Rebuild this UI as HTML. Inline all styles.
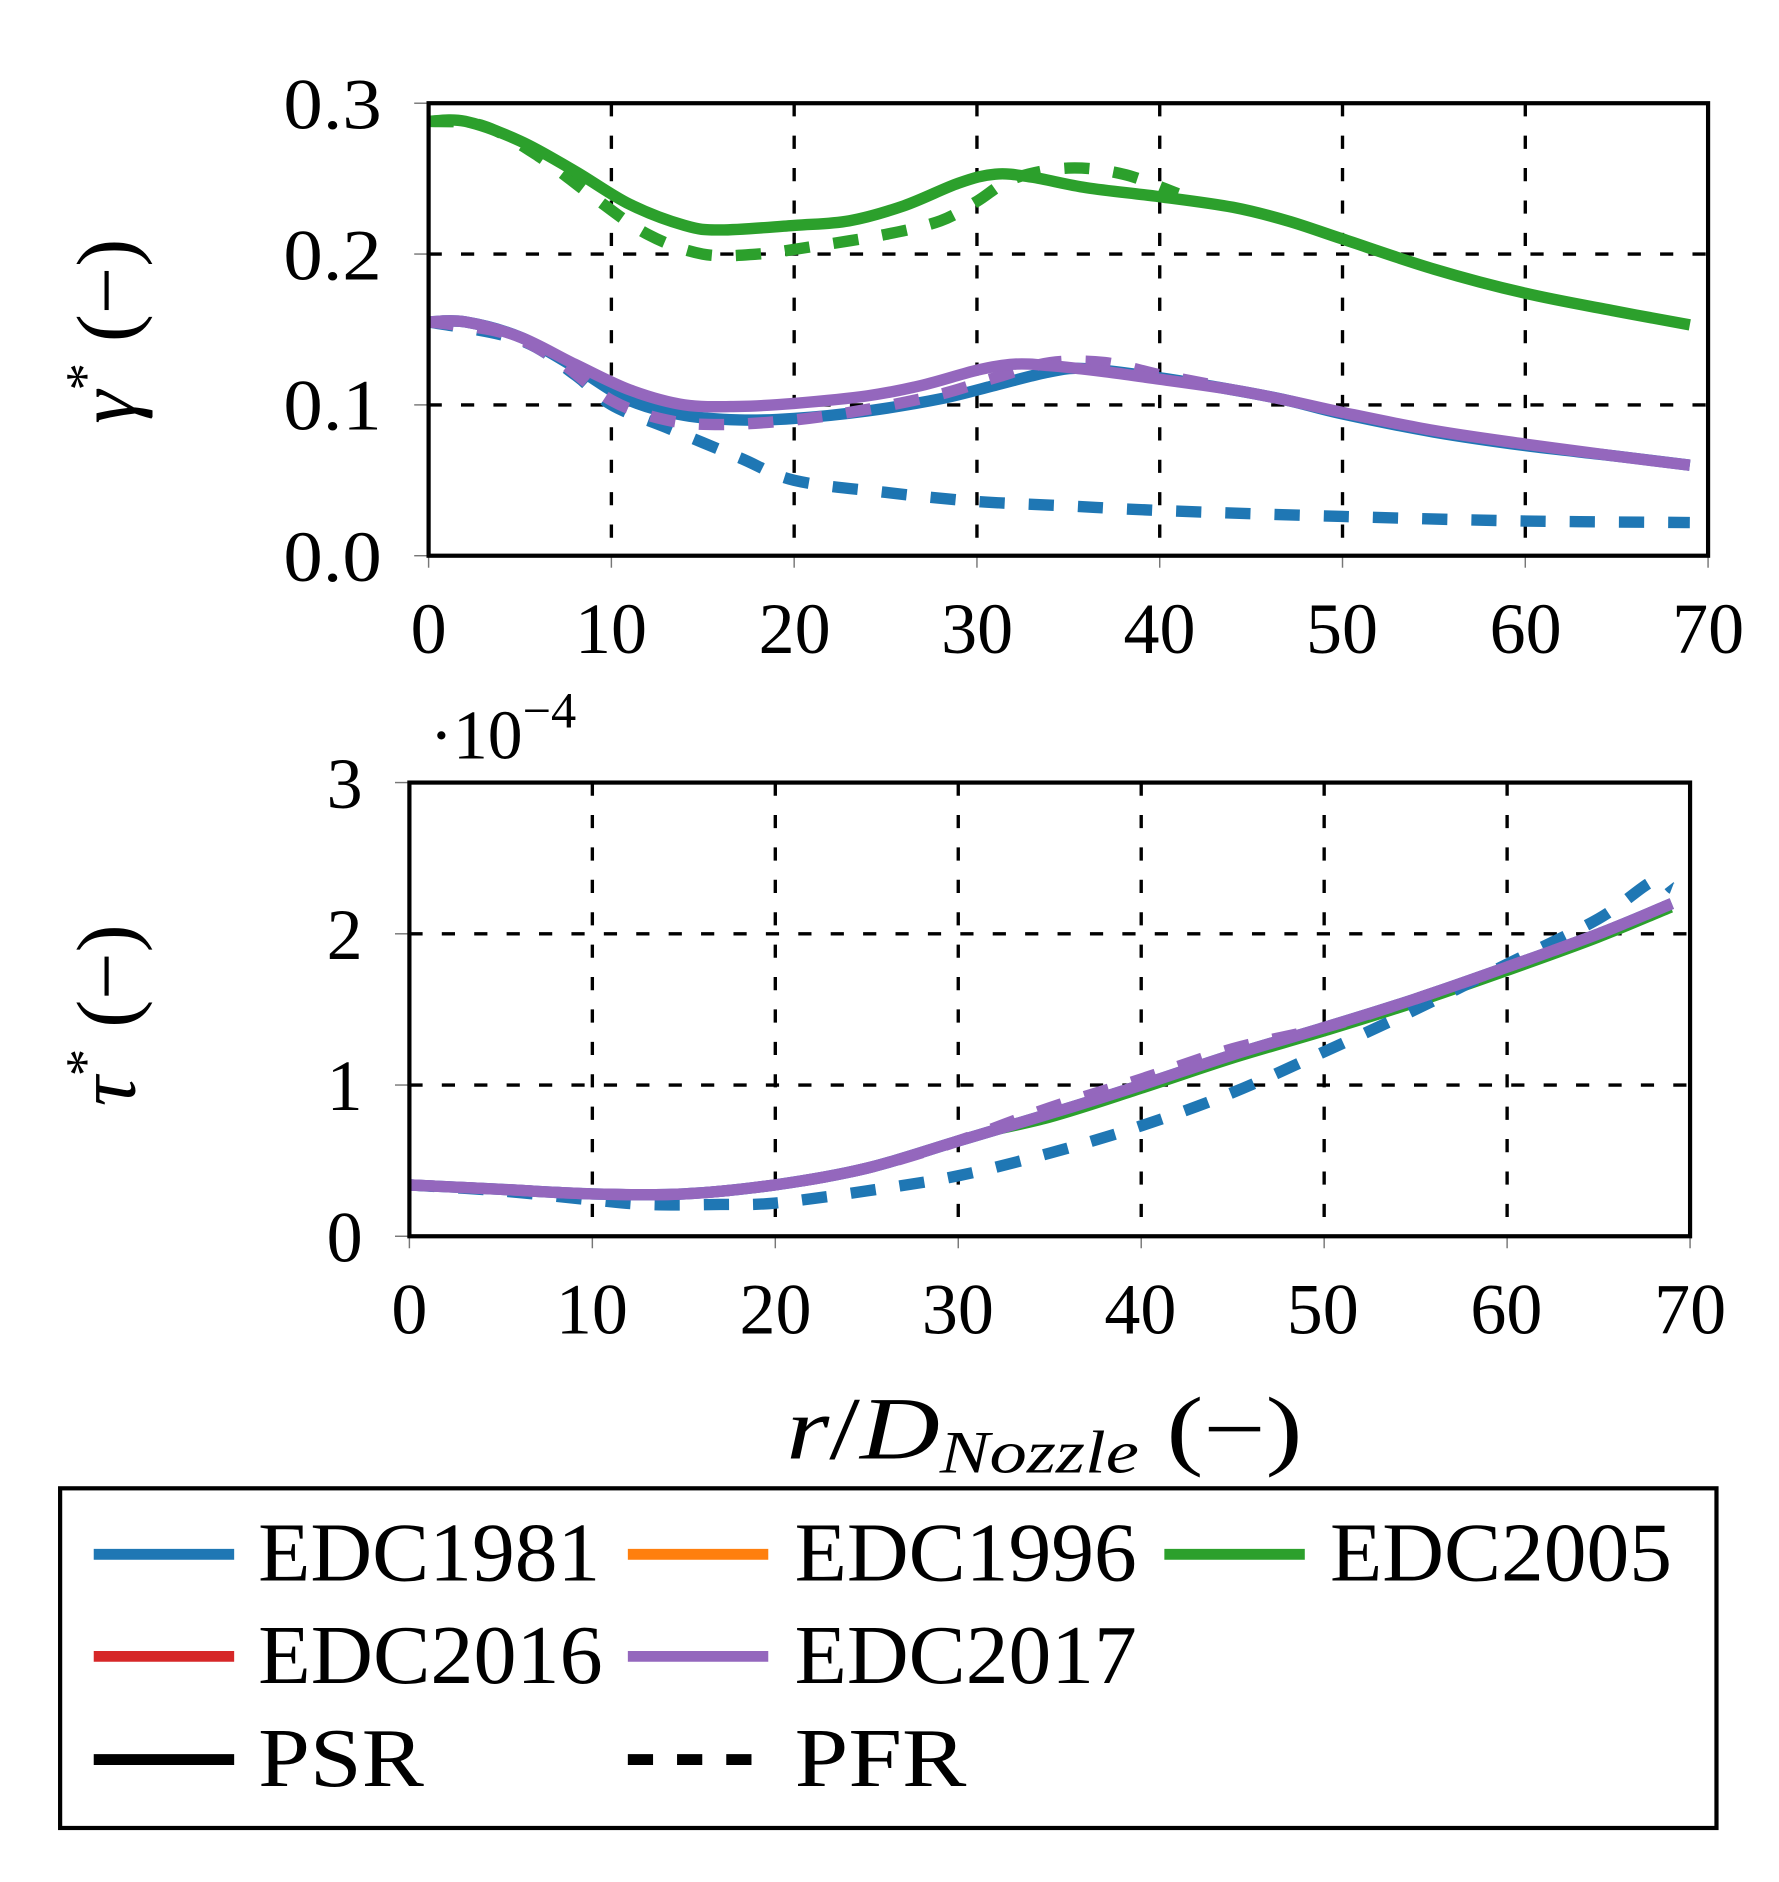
<!DOCTYPE html>
<html><head><meta charset="utf-8"><style>
html,body{margin:0;padding:0;background:#fff}
svg{display:block}
text{font-family:"Liberation Serif",serif;fill:#000}
</style></head><body>
<svg id="s" width="1779" height="1882" viewBox="0 0 1482 1568" xmlns="http://www.w3.org/2000/svg">
<rect width="1482" height="1568" fill="#fff"/>
<g id="g1"></g>
<g font-size="60" text-anchor="end">
<text x="318" y="107" textLength="82" lengthAdjust="spacingAndGlyphs">0.3</text>
<text x="318" y="233" textLength="82" lengthAdjust="spacingAndGlyphs">0.2</text>
<text x="318" y="358" textLength="82" lengthAdjust="spacingAndGlyphs">0.1</text>
<text x="318" y="484" textLength="82" lengthAdjust="spacingAndGlyphs">0.0</text>
</g>
<g font-size="60" text-anchor="middle">
<text x="357" y="544">0</text><text x="509" y="544">10</text><text x="662" y="544">20</text><text x="814" y="544">30</text><text x="966" y="544">40</text><text x="1118" y="544">50</text><text x="1271" y="544">60</text><text x="1423" y="544">70</text>
</g>
<g font-size="60" text-anchor="end">
<text x="302" y="673">3</text>
<text x="302" y="799">2</text>
<text x="302" y="925">1</text>
<text x="302" y="1051">0</text>
</g>
<g font-size="60" text-anchor="middle">
<text x="341" y="1111">0</text><text x="493" y="1111">10</text><text x="646" y="1111">20</text><text x="798" y="1111">30</text><text x="950" y="1111">40</text><text x="1102" y="1111">50</text><text x="1255" y="1111">60</text><text x="1408" y="1111">70</text>
</g>
<text x="358" y="632" font-size="58">·10<tspan dy="-26" font-size="42">−4</tspan></text>
<text transform="translate(112,276) rotate(-90)" font-size="70" text-anchor="middle"><tspan font-style="italic">γ</tspan><tspan dy="-26" font-size="46">*</tspan><tspan dy="26"> (−)</tspan></text>
<text transform="translate(112,846) rotate(-90)" font-size="70" text-anchor="middle"><tspan font-style="italic">τ</tspan><tspan dy="-26" font-size="46">*</tspan><tspan dy="26"> (−)</tspan></text>
<text x="870" y="1215" font-size="74" text-anchor="middle" textLength="430" lengthAdjust="spacingAndGlyphs"><tspan font-style="italic">r</tspan>/<tspan font-style="italic">D</tspan><tspan font-style="italic" font-size="50" dy="12">Nozzle</tspan><tspan dy="-12"> (−)</tspan></text>
<rect x="50" y="1240" width="1380" height="283" fill="none" stroke="#000" stroke-width="3.5"/>
<g stroke-width="9">
<line x1="78" y1="1295" x2="195" y2="1295" stroke="#1f77b4"/>
<line x1="523" y1="1295" x2="640" y2="1295" stroke="#ff7f0e"/>
<line x1="970" y1="1295" x2="1087" y2="1295" stroke="#2ca02c"/>
<line x1="78" y1="1380" x2="195" y2="1380" stroke="#d62728"/>
<line x1="523" y1="1380" x2="640" y2="1380" stroke="#9467bd"/>
<line x1="78" y1="1466" x2="195" y2="1466" stroke="#000"/>
<line x1="523" y1="1466" x2="630" y2="1466" stroke="#000" stroke-dasharray="21 20"/>
</g>
<g font-size="70">
<text x="215" y="1317" textLength="285" lengthAdjust="spacingAndGlyphs">EDC1981</text><text x="662" y="1317" textLength="285" lengthAdjust="spacingAndGlyphs">EDC1996</text><text x="1108" y="1317" textLength="285" lengthAdjust="spacingAndGlyphs">EDC2005</text>
<text x="215" y="1402" textLength="287" lengthAdjust="spacingAndGlyphs">EDC2016</text><text x="662" y="1402" textLength="285" lengthAdjust="spacingAndGlyphs">EDC2017</text>
<text x="215" y="1488" textLength="138" lengthAdjust="spacingAndGlyphs">PSR</text><text x="662" y="1488" textLength="143" lengthAdjust="spacingAndGlyphs">PFR</text>
</g>
</svg>
<script>
var NS="http://www.w3.org/2000/svg",g=document.getElementById("g1");
function el(t,a){var e=document.createElementNS(NS,t);for(var k in a)e.setAttribute(k,a[k]);g.appendChild(e);return e;}
function smooth(pts){
 var d="M"+pts[0][0].toFixed(1)+","+pts[0][1].toFixed(1);
 for(var i=0;i<pts.length-1;i++){
  var p0=pts[Math.max(0,i-1)],p1=pts[i],p2=pts[i+1],p3=pts[Math.min(pts.length-1,i+2)];
  var c1=[p1[0]+(p2[0]-p0[0])/6,p1[1]+(p2[1]-p0[1])/6],c2=[p2[0]-(p3[0]-p1[0])/6,p2[1]-(p3[1]-p1[1])/6];
  d+="C"+c1[0].toFixed(1)+","+c1[1].toFixed(1)+" "+c2[0].toFixed(1)+","+c2[1].toFixed(1)+" "+p2[0].toFixed(1)+","+p2[1].toFixed(1);
 }
 return d;
}
function plot(P,series){
 var X=function(x){return P.x0+(P.x1-P.x0)*x/70},Y=function(y){return P.y0+(P.y1-P.y0)*y/P.ym};
 for(var i=1;i<7;i++)el("line",{x1:X(i*10),x2:X(i*10),y1:P.y1,y2:P.y0,stroke:"#000","stroke-width":2.8,"stroke-dasharray":"11 16"});
 P.gy.forEach(function(v){el("line",{x1:P.x0,x2:P.x1,y1:Y(v),y2:Y(v),stroke:"#000","stroke-width":2.8,"stroke-dasharray":"11 16"});});
 for(var i=0;i<=7;i++)el("line",{x1:X(i*10),x2:X(i*10),y1:P.y0,y2:P.y0+10,stroke:"#777","stroke-width":1.2});
 P.ty.forEach(function(v){el("line",{x1:P.x0-12,x2:P.x0,y1:Y(v),y2:Y(v),stroke:"#777","stroke-width":1.2});});
 series.forEach(function(s){
  var d=smooth(s.p.map(function(p){return [X(p[0]),Y(p[1])]}));
  var a={d:d,fill:"none",stroke:s.c,"stroke-width":s.w||9.5,"stroke-linejoin":"round"};
  if(s.dash)a["stroke-dasharray"]="21 20";
  el("path",a);
 });
 el("rect",{x:P.x0,y:P.y1,width:P.x1-P.x0,height:P.y0-P.y1,fill:"none",stroke:"#000","stroke-width":3.5});
}
var B="#1f77b4",G="#2ca02c",Pu="#9467bd";
var gs=[[0,.288],[2,.288],[5,.275],[8,.255],[11,.233],[14,.219],[16,.216],[20,.219],[23,.222],[26,.232],[29,.247],[31,.253],[33,.251],[36,.244],[40,.238],[44,.231],[47,.222],[50,.21],[55,.19],[60,.174],[65,.162],[69,.153]];
var gd=[[0,.288],[3,.285],[6,.265],[9,.238],[12,.213],[15,.2],[18,.2],[21,.205],[25,.213],[28,.222],[30,.235],[32,.25],[35,.257],[38,.253],[41,.24]];
var ps=[[0,.155],[2,.155],[5,.145],[8,.127],[11,.11],[14,.1],[17,.099],[20,.101],[24,.106],[27,.113],[30,.123],[32,.127],[34,.126],[37,.122],[40,.117],[44,.11],[47,.103],[50,.095],[55,.083],[60,.074],[65,.066],[69,.06]];
var bs=[[0,.155],[2,.155],[5,.145],[8,.125],[11,.103],[14,.093],[17,.09],[20,.091],[24,.096],[28,.104],[31,.113],[34,.122],[36,.124],[40,.118],[44,.11],[47,.103],[50,.094],[55,.082],[60,.073],[65,.066],[69,.06]];
var pd=[[0,.155],[4,.148],[7,.13],[10,.103],[13,.09],[16,.087],[20,.09],[24,.097],[28,.107],[31,.118],[34,.128],[37,.128],[40,.12],[43,.113]];
var bd=[[0,.155],[5,.143],[8,.12],[10,.1],[13,.085],[17,.065],[20,.05],[25,.042],[30,.036],[35,.033],[40,.03],[50,.026],[60,.023],[69,.022]];
plot({x0:357,x1:1423,y0:463,y1:86,ym:.3,gy:[.1,.2],ty:[0,.1,.2,.3]},[
 {p:bd,c:B,dash:1},{p:bs,c:B},{p:gd,c:G,dash:1},{p:gs,c:G},{p:pd,c:Pu,dash:1},{p:ps,c:Pu}]);
var t=[[0,.34],[5,.31],[10,.28],[15,.28],[20,.34],[25,.45],[30,.63],[35,.81],[40,1.0],[45,1.2],[50,1.38],[55,1.57],[60,1.78],[65,2.0],[69,2.2]];
var tg=t.map(function(p){return [p[0],p[1]-(p[0]>30?0.04:0)]});
var tb=[[0,.34],[5,.3],[10,.24],[13,.21],[17,.21],[20,.22],[25,.3],[30,.4],[35,.55],[40,.73],[45,.95],[50,1.22],[55,1.5],[60,1.8],[65,2.1],[68,2.35],[69,2.3]];
var tp=t.map(function(p){return [p[0],p[1]+(p[0]>30&&p[0]<50?0.04:0)]});
plot({x0:341,x1:1408,y0:1030,y1:652,ym:3,gy:[1,2],ty:[0,1,2,3]},[
 {p:tg,c:G,w:5},{p:tb,c:B,dash:1},{p:t,c:B},{p:tp,c:Pu,dash:1},{p:t,c:Pu}]);
</script>
</body></html>
